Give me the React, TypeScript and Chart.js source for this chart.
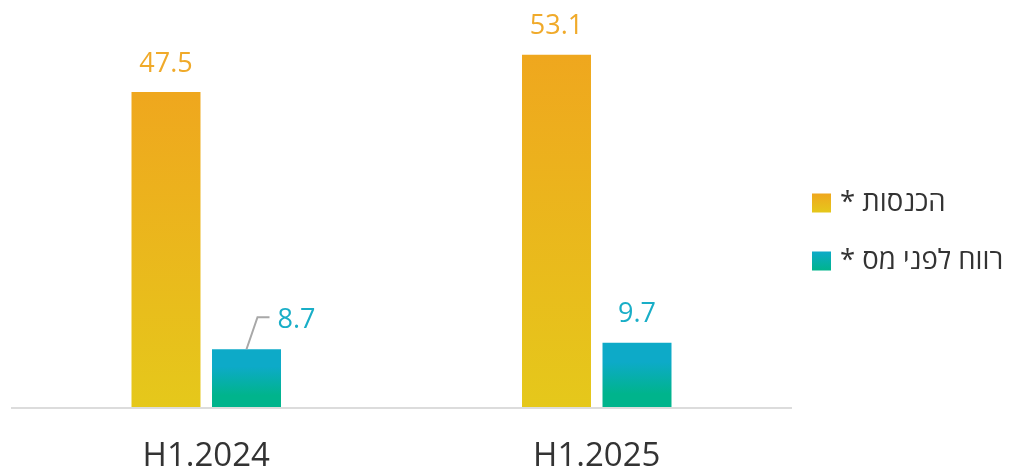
import React, { useEffect, useRef } from "react";
import { Chart, registerables } from "chart.js";

Chart.register(...registerables);

const categories = ["H1.2024", "H1.2025"];
const seriesNames = ["הכנסות *", "רווח לפני מס *"];
const revenue = [47.5, 53.1];
const profit = [8.7, 9.7];

const FONT = "'Open Sans', 'DejaVu Sans', sans-serif";
const ORANGE_TOP = "#EFA71E";
const ORANGE_BOTTOM = "#E5C81B";
const TEAL_TOP = "#0DAAC8";
const TEAL_BOTTOM = "#00B48C";
const ORANGE_LABEL = "#F0AA2A";
const TEAL_LABEL = "#19AEC7";

function gradFor(ctx: any, kind: "orange" | "teal") {
  const chart = ctx.chart;
  const area = chart.chartArea;
  if (!area) return kind === "orange" ? ORANGE_TOP : TEAL_TOP;
  const y = chart.scales.y;
  const v = ctx.raw as number;
  const top = y.getPixelForValue(v);
  const bottom = y.getPixelForValue(0);
  const g = chart.ctx.createLinearGradient(0, top, 0, bottom);
  if (kind === "orange") {
    g.addColorStop(0, ORANGE_TOP);
    g.addColorStop(1, ORANGE_BOTTOM);
  } else {
    g.addColorStop(0, TEAL_TOP);
    g.addColorStop(0.3, TEAL_TOP);
    g.addColorStop(0.8, TEAL_BOTTOM);
    g.addColorStop(1, TEAL_BOTTOM);
  }
  return g;
}

const overlay = {
  id: "overlay",
  beforeDatasetsDraw(chart: any) {
    const { ctx, chartArea } = chart;
    ctx.save();
    ctx.strokeStyle = "#dcdcdc";
    ctx.lineWidth = 2;
    ctx.beginPath();
    ctx.moveTo(11, chartArea.bottom + 1);
    ctx.lineTo(792, chartArea.bottom + 1);
    ctx.stroke();
    ctx.restore();
  },
  afterDatasetsDraw(chart: any) {
    const { ctx, chartArea } = chart;
    ctx.save();
    const colors = [ORANGE_LABEL, TEAL_LABEL];
    chart.data.datasets.forEach((ds: any, di: number) => {
      const meta = chart.getDatasetMeta(di);
      meta.data.forEach((bar: any, i: number) => {
        const v = ds.data[i];
        const text = v.toFixed(1);
        ctx.font = `27px ${FONT}`;
        ctx.fillStyle = colors[di];
        ctx.textBaseline = "middle";
        if (di === 1 && i === 0) {
          ctx.strokeStyle = "#a8a8a8";
          ctx.lineWidth = 2;
          ctx.beginPath();
          ctx.moveTo(bar.x, bar.y);
          ctx.lineTo(bar.x + 11, bar.y - 32);
          ctx.lineTo(bar.x + 23, bar.y - 32);
          ctx.stroke();
          ctx.textAlign = "left";
          ctx.fillText(text, bar.x + 31, bar.y - 29);
        } else {
          ctx.textAlign = "center";
          ctx.fillText(text, bar.x, bar.y - 28);
        }
      });
    });
    const xs = chart.scales.x;
    ctx.font = `33px ${FONT}`;
    ctx.fillStyle = "#333333";
    ctx.textAlign = "center";
    ctx.textBaseline = "alphabetic";
    categories.forEach((c, i) => {
      ctx.fillText(c, xs.getPixelForValue(i), chartArea.bottom + 59);
    });
    const legendY = [203, 261];
    legendY.forEach((ly, i) => {
      const g = ctx.createLinearGradient(0, ly - 9.5, 0, ly + 9.5);
      if (i === 0) {
        g.addColorStop(0, ORANGE_TOP);
        g.addColorStop(1, ORANGE_BOTTOM);
      } else {
        g.addColorStop(0, TEAL_TOP);
        g.addColorStop(1, TEAL_BOTTOM);
      }
      ctx.fillStyle = g;
      ctx.fillRect(812, ly - 9.5, 19, 19);
      ctx.fillStyle = "#333333";
      ctx.font = `27.5px ${FONT}`;
      ctx.direction = "rtl";
      ctx.textAlign = "left";
      ctx.textBaseline = "middle";
      ctx.fillText(seriesNames[i], 840, ly);
      ctx.direction = "ltr";
    });
    ctx.restore();
  },
};

export default function App() {
  const ref = useRef<HTMLCanvasElement>(null);
  useEffect(() => {
    document.body.style.margin = "0";
    const chart = new Chart(ref.current!, {
      type: "bar",
      data: {
        labels: categories,
        datasets: [
          {
            label: seriesNames[0],
            data: revenue,
            backgroundColor: (c: any) => gradFor(c, "orange"),
            categoryPercentage: 0.4123,
            barPercentage: 0.857,
          },
          {
            label: seriesNames[1],
            data: profit,
            backgroundColor: (c: any) => gradFor(c, "teal"),
            categoryPercentage: 0.4123,
            barPercentage: 0.857,
          },
        ],
      },
      options: {
        animation: false,
        responsive: false,
        maintainAspectRatio: false,
        layout: { padding: { left: 11, right: 218, top: 9, bottom: 0 } },
        plugins: { legend: { display: false }, tooltip: { enabled: false } },
        scales: {
          x: {
            grid: { display: false },
            border: { display: false },
            ticks: { display: false },
            afterFit: (s: any) => {
              s.height = 62;
            },
          },
          y: { display: false, min: 0, max: 60 },
        },
      },
      plugins: [overlay],
    });
    return () => chart.destroy();
  }, []);
  return (
    <div style={{ position: "absolute", left: 0, top: 0, width: 1010, height: 469 }}>
      <canvas ref={ref} width={1010} height={469} />
    </div>
  );
}
